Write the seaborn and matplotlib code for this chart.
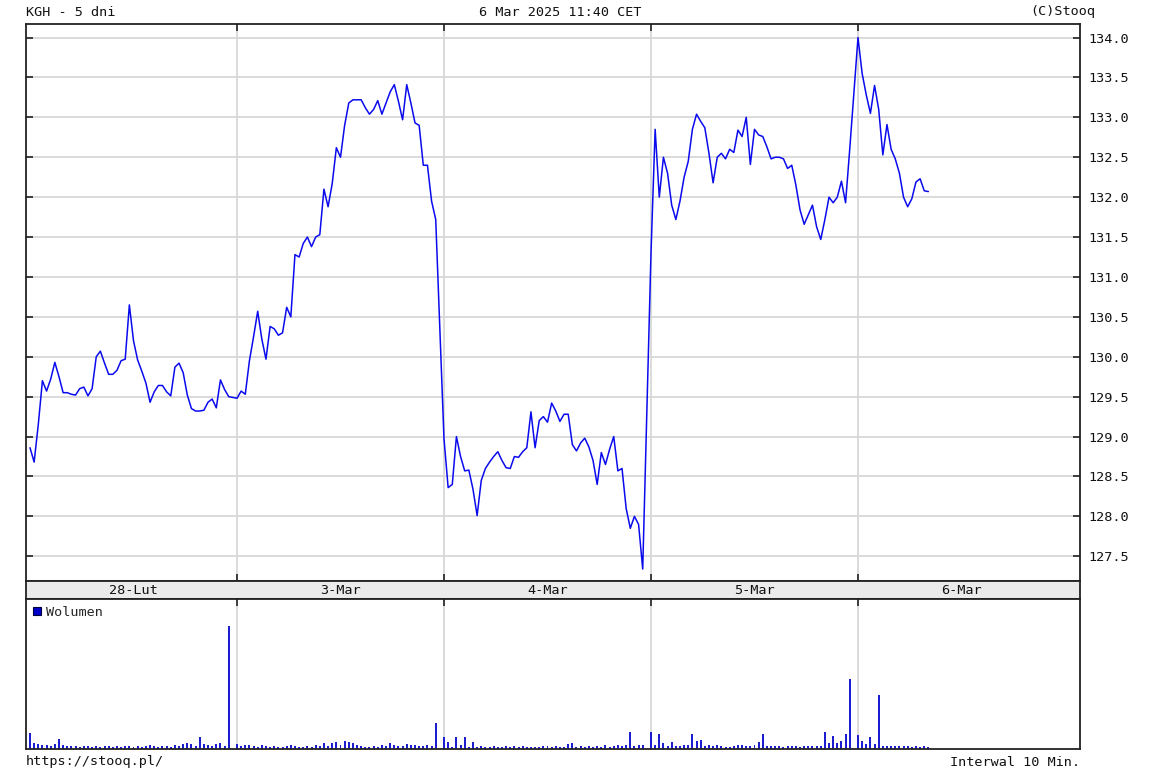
import numpy as np
import pandas as pd
import seaborn as sns
import matplotlib.pyplot as plt
from matplotlib.patches import Patch

# KGH intraday, 10 min bars, last 5 sessions
day_labels = ['28-Lut', '3-Mar', '4-Mar', '5-Mar', '6-Mar']
slots_per_day = 50

close_28lut = [128.86, 128.68, 129.15, 129.70, 129.57, 129.72, 129.93, 129.75, 129.55, 129.55,
               129.53, 129.52, 129.60, 129.62, 129.51, 129.60, 130.00, 130.07, 129.92, 129.78,
               129.78, 129.83, 129.95, 129.97, 130.65, 130.20, 129.96, 129.82, 129.67, 129.43,
               129.56, 129.64, 129.64, 129.56, 129.51, 129.87, 129.92, 129.80, 129.52, 129.35,
               129.32, 129.32, 129.33, 129.43, 129.47, 129.36, 129.71, 129.59, 129.50]
close_3mar = [129.48, 129.57, 129.53, 129.95, 130.25, 130.57, 130.22, 129.97, 130.38, 130.35,
              130.27, 130.30, 130.62, 130.50, 131.28, 131.25, 131.42, 131.50, 131.38, 131.50,
              131.53, 132.10, 131.88, 132.17, 132.62, 132.50, 132.90, 133.18, 133.22, 133.22,
              133.22, 133.12, 133.04, 133.10, 133.21, 133.04, 133.18, 133.32, 133.41, 133.20,
              132.97, 133.41, 133.18, 132.93, 132.90, 132.40, 132.40, 131.95, 131.72]
close_4mar = [128.97, 128.36, 128.40, 129.00, 128.75, 128.57, 128.58, 128.34, 128.01, 128.45,
              128.60, 128.68, 128.75, 128.81, 128.70, 128.61, 128.60, 128.75, 128.74, 128.81,
              128.86, 129.31, 128.86, 129.20, 129.25, 129.18, 129.42, 129.32, 129.19, 129.28,
              129.28, 128.90, 128.82, 128.92, 128.98, 128.87, 128.70, 128.40, 128.80, 128.65,
              128.84, 129.00, 128.57, 128.60, 128.10, 127.85, 128.00, 127.90, 127.34]
close_5mar = [131.30, 132.85, 132.00, 132.50, 132.30, 131.90, 131.72, 131.95, 132.25, 132.45,
              132.85, 133.04, 132.95, 132.87, 132.55, 132.18, 132.50, 132.55, 132.48, 132.60,
              132.56, 132.84, 132.76, 133.00, 132.41, 132.85, 132.78, 132.76, 132.63, 132.48,
              132.50, 132.50, 132.48, 132.36, 132.40, 132.15, 131.84, 131.66, 131.78, 131.90,
              131.63, 131.47, 131.72, 132.00, 131.93, 132.00, 132.20, 131.93, 132.60]
close_6mar = [134.00, 133.55, 133.28, 133.05, 133.40, 133.10, 132.53, 132.91, 132.60, 132.48,
              132.30, 132.00, 131.88, 131.98, 132.19, 132.23, 132.08, 132.07]

# volume (relative units)
vol_28lut = [16, 6, 5, 4, 4, 3, 5, 10, 4, 3, 3, 3, 2, 3, 3, 2, 3, 2, 3, 3,
             2, 3, 2, 3, 3, 2, 3, 2, 3, 4, 3, 2, 3, 3, 2, 4, 3, 5, 6, 5,
             3, 12, 5, 4, 3, 5, 6, 3, 123]
vol_3mar = [5, 3, 4, 4, 3, 2, 4, 3, 2, 3, 2, 2, 3, 4, 3, 2, 2, 3, 2, 4,
            3, 6, 3, 6, 7, 4, 8, 7, 6, 4, 3, 2, 2, 3, 2, 4, 3, 6, 4, 3,
            3, 5, 4, 4, 3, 3, 4, 3, 26]
vol_4mar = [12, 7, 2, 12, 4, 12, 2, 7, 2, 3, 2, 2, 3, 2, 2, 3, 2, 3, 2, 3,
            2, 2, 2, 2, 3, 3, 2, 3, 2, 2, 5, 6, 2, 3, 2, 3, 2, 3, 2, 4,
            2, 3, 4, 3, 4, 17, 3, 4, 4]
vol_5mar = [17, 4, 15, 6, 3, 7, 3, 3, 4, 4, 15, 8, 9, 3, 4, 3, 4, 3, 2, 2,
            3, 4, 4, 3, 3, 4, 7, 15, 3, 3, 3, 3, 2, 3, 3, 3, 2, 3, 3, 3,
            3, 3, 17, 6, 13, 6, 8, 15, 70]
vol_6mar = [14, 8, 5, 12, 5, 54, 3, 3, 3, 3, 3, 3, 3, 2, 3, 2, 3, 2]

closes = [close_28lut, close_3mar, close_4mar, close_5mar, close_6mar]
volumes = [vol_28lut, vol_3mar, vol_4mar, vol_5mar, vol_6mar]

rows = []
for d in range(len(closes)):
    for k in range(len(closes[d])):
        rows.append((d + k / slots_per_day, closes[d][k], volumes[d][k]))
df = pd.DataFrame(rows, columns=['t', 'close', 'vol'])

sns.set_style('white')
plt.rcParams['font.family'] = ['DejaVu Sans Mono', 'DejaVu Sans']
plt.rcParams['font.size'] = 9.7

W, H = 1153, 773
fig = plt.figure(figsize=(W / 100, H / 100), dpi=100)
left, right = 26, 1080
ax = fig.add_axes([left / W, 1 - 581 / H, (right - left) / W, (581 - 24) / H])
band = fig.add_axes([left / W, 1 - 599 / H, (right - left) / W, 18 / H])
axv = fig.add_axes([left / W, 1 - 749 / H, (right - left) / W, 150 / H])

xlim = (-4 / 207, 1050 / 207)
spine_col = '#222222'
grid_col = '#d8d8d8'

# price
sns.lineplot(data=df, x='t', y='close', ax=ax, color='#0a0aee', linewidth=1.1)
ax.set_xlim(*xlim)
ax.set_ylim(127.19, 134.17)
yt = np.arange(127.5, 134.01, 0.5)
ax.set_yticks(yt)
ax.set_yticklabels(['%.1f' % v for v in yt])
ax.set_xticks([1, 2, 3, 4])
ax.set_xticklabels([])
ax.grid(True, color=grid_col, linewidth=1.3)
ax.set_axisbelow(True)
ax.tick_params(axis='y', direction='in', length=5, width=1.2, left=True, right=True,
               labelleft=False, labelright=True, pad=6, colors=spine_col, labelcolor='#111111')
ax.tick_params(axis='x', direction='in', length=5, width=1.2, top=True, bottom=True,
               colors=spine_col)
ax.set_xlabel('')
ax.set_ylabel('')

# date band
band.set_facecolor('#ebebeb')
band.set_xlim(*xlim)
band.set_ylim(0, 1)
band.set_xticks([])
band.set_yticks([])
for d, lab in enumerate(day_labels):
    band.text(d + 0.5, 0.45, lab, ha='center', va='center', color='#111111')

# volume: one narrow bin around each bar time, weighted by volume
half = 0.0048
edges = sorted(list(df['t'] - half) + list(df['t'] + half))
sns.histplot(data=df, x='t', weights='vol', bins=edges, ax=axv, color='#1c1cd0',
             alpha=1, linewidth=0, element='bars', fill=True)
axv.set_xlim(*xlim)
axv.set_ylim(0, 150)
axv.set_xticks([1, 2, 3, 4])
axv.set_xticklabels([])
axv.set_yticks([])
axv.grid(True, axis='x', color=grid_col, linewidth=1.3)
axv.set_axisbelow(True)
axv.tick_params(axis='x', direction='in', length=5, width=1.2, top=True, bottom=False,
                colors=spine_col)
axv.set_xlabel('')
axv.set_ylabel('')
axv.legend(handles=[Patch(facecolor='#0000c8', edgecolor='#000040', linewidth=0.8)],
           labels=['Wolumen'], loc='upper left', frameon=False,
           handlelength=0.6, handleheight=0.6, handletextpad=0.4,
           borderaxespad=0.3, borderpad=0.2)

for a in (ax, band, axv):
    for s in a.spines.values():
        s.set_color(spine_col)
        s.set_linewidth(1.3)

# header / footer
fig.text(left / W, 1 - 12 / H, 'KGH - 5 dni', ha='left', va='center', color='#111111')
fig.text(560 / W, 1 - 12 / H, '6 Mar 2025 11:40 CET', ha='center', va='center', color='#111111')
fig.text(1095 / W, 1 - 12 / H, '(C)Stooq', ha='right', va='center', color='#111111')
fig.text(left / W, 1 - 762 / H, 'https://stooq.pl/', ha='left', va='center', color='#111111')
fig.text(right / W, 1 - 762 / H, 'Interwal 10 Min.', ha='right', va='center', color='#111111')

fig.savefig('out.png', dpi=100)
